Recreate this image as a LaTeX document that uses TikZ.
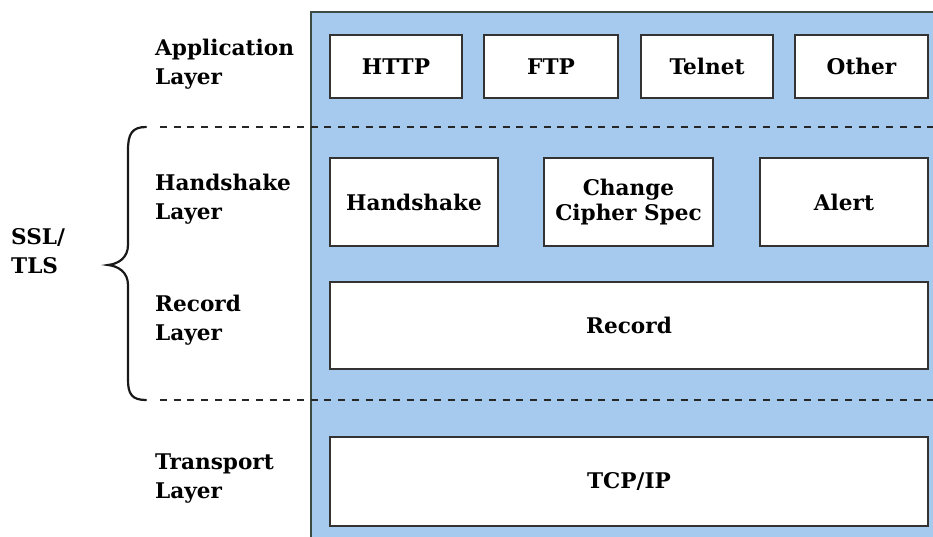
\documentclass[tikz,border=0pt]{standalone}
\usepackage{fontspec}
\setmainfont{DejaVu Serif}
\begin{document}
\begin{tikzpicture}[x=1pt,y=-1pt,
  every node/.style={font=\bfseries\fontsize{21.6}{29}\selectfont},
  box/.style={draw=black!80, fill=white, line width=2pt, inner sep=0pt, anchor=north west, align=center},
  lbl/.style={anchor=west, align=left, inner sep=0pt},
  sep/.style={dash pattern=on 7pt off 6.7pt, line width=1.5pt, black!85}]
\useasboundingbox (0,0) rectangle (933,536);
\clip (0,0) rectangle (933,536);
% panel
\fill[fill={rgb,255:red,166;green,202;blue,238}] (311,12) rectangle (945,550);
\draw[line width=2pt, color={rgb,255:red,60;green,75;blue,65}] (311,550) -- (311,12) -- (945,12);
% dashed separators
\coordinate (d1a) at (160,127); \coordinate (d1b) at (933,127);
\coordinate (d2a) at (160,400); \coordinate (d2b) at (933,400);
\draw[sep] (d1a) -- (d1b);
\draw[sep] (d2a) -- (d2b);
% application row
\node[box, minimum width=132pt, minimum height=63pt] (http) at (329,34) {HTTP};
\node[box, minimum width=134pt, minimum height=63pt] (ftp) at (483,34) {FTP};
\node[box, minimum width=132pt, minimum height=63pt] (telnet) at (640,34) {Telnet};
\node[box, minimum width=133pt, minimum height=63pt] (other) at (794,34) {Other};
% handshake row
\node[box, minimum width=168pt, minimum height=88pt] (hs) at (329,157) {Handshake};
\node[box, minimum width=169pt, minimum height=88pt] (ccs) at (543,157) {Change\\[-4pt]Cipher Spec};
\node[box, minimum width=168pt, minimum height=88pt] (alert) at (759,157) {Alert};
% record
\node[box, minimum width=598pt, minimum height=87pt] (rec) at (329,281) {Record};
% tcp/ip
\node[box, minimum width=598pt, minimum height=89pt] (tcp) at (329,436) {TCP/IP};
% left labels
\node[lbl] (lapp) at (155,64) {Application\\Layer};
\node[lbl] (lhs) at (155,199) {Handshake\\Layer};
\node[lbl] (lrec) at (155,320) {Record\\Layer};
\node[lbl] (ltr) at (155,479) {Transport\\Layer};
\node[lbl] (ssl) at (11,251) {SSL/\\TLS};
% brace
\draw[line width=2.2pt, black!90, line cap=round]
  (146,127) .. controls (132,127) and (128,134) .. (128,150)
  -- (128,245) .. controls (128,258) and (118,264) .. (108,265)
  .. controls (118,266) and (128,272) .. (128,285)
  -- (128,380) .. controls (128,394) and (132,400) .. (146,400);
\end{tikzpicture}
\end{document}
